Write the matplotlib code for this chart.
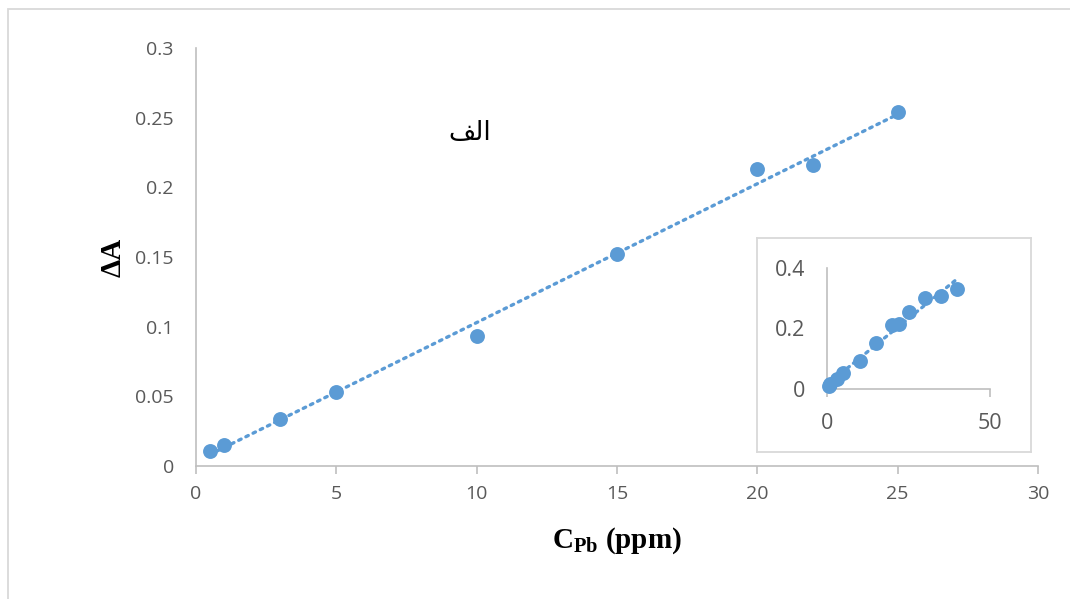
import numpy as np
import matplotlib
matplotlib.use("Agg")
import matplotlib.pyplot as plt
from matplotlib.patches import Rectangle

# ---- data ----
conc_main = [0.5, 1, 3, 5, 10, 15, 20, 22, 25]
dA_main = [0.011, 0.015, 0.034, 0.053, 0.093, 0.152, 0.213, 0.216, 0.254]

conc_inset = [0.5, 1, 3, 5, 10, 15, 20, 22, 25, 30, 35, 40]
dA_inset = [0.011, 0.015, 0.034, 0.053, 0.093, 0.152, 0.213, 0.216, 0.254, 0.300, 0.309, 0.329]

main_xticks = [0, 5, 10, 15, 20, 25, 30]
main_yticks = [0, 0.05, 0.1, 0.15, 0.2, 0.25, 0.3]
main_yticklabels = ["0", "0.05", "0.1", "0.15", "0.2", "0.25", "0.3"]
inset_xticks = [0, 50]
inset_yticks = [0, 0.2, 0.4]
inset_yticklabels = ["0", "0.2", "0.4"]

label_text = "الف"

# simple visual shaping for the Arabic label (matplotlib has no shaping)
_forms = {"ا": "\ufe8d", "ل": "\ufedf", "ف": "\ufed2"}
def shape_label(s):
    return "".join(_forms.get(c, c) for c in s)[::-1]

plt.rcParams["mathtext.fontset"] = "custom"
plt.rcParams["mathtext.bf"] = "Liberation Serif:bold"
plt.rcParams["mathtext.rm"] = "Liberation Serif:bold"
plt.rcParams["mathtext.it"] = "Liberation Serif:bold"

BLUE = "#5B9BD5"
GRAY_TXT = "#595959"
AXIS_GRAY = "#BFBFBF"
TICK_FONT = ["Open Sans", "DejaVu Sans"]

fig = plt.figure(figsize=(10.70, 5.99), dpi=100)
W, H = 1070, 599

# outer chart border
fig.patches.append(Rectangle((8 / W, -0.1), 1.2, (599 - 8.5) / H + 0.1,
                             transform=fig.transFigure, fill=False,
                             edgecolor="#D9D9D9", linewidth=1.3, zorder=0))

ax = fig.add_axes([196 / W, (H - 466) / H, (1038 - 196) / W, (466 - 48) / H])
ax.scatter(conc_main, dA_main, s=115, color=BLUE, zorder=3, linewidths=0)
p = np.polyfit(conc_main, dA_main, 1)
xf = np.array([min(conc_main), max(conc_main)])
ax.plot(xf, np.polyval(p, xf), color=BLUE, linestyle=(0, (0.8, 1.6)),
        linewidth=2.4, dash_capstyle="round", zorder=2)
ax.set_xlim(0, 30)
ax.set_ylim(0, 0.3)
ax.set_xticks(main_xticks)
ax.set_yticks(main_yticks)
ax.set_yticklabels(main_yticklabels)
for s in ["top", "right"]:
    ax.spines[s].set_visible(False)
for s in ["left", "bottom"]:
    ax.spines[s].set_color(AXIS_GRAY)
    ax.spines[s].set_linewidth(1.2)
ax.tick_params(axis="x", direction="out", length=6, width=1.2, color=AXIS_GRAY,
               labelsize=14, labelcolor=GRAY_TXT, pad=8)
ax.tick_params(axis="y", length=0, labelsize=14, labelcolor=GRAY_TXT, pad=16)
for t in ax.get_xticklabels() + ax.get_yticklabels():
    t.set_family(TICK_FONT)
ax.set_xlabel(r"C$_{\mathbf{Pb}}$ (ppm)", fontsize=21, fontweight="bold",
              family="Liberation Serif", labelpad=16)
ax.set_ylabel("ΔA", fontsize=21, fontweight="bold", family="Liberation Serif",
              labelpad=6)
ax.text(9.76, 0.239, shape_label(label_text), fontsize=19, color="black",
        family="DejaVu Sans", ha="center", va="center")

# inset frame
frame = fig.add_axes([757 / W, (H - 452) / H, (1031 - 757) / W, (452 - 238) / H])
frame.set_xticks([]); frame.set_yticks([])
for s in frame.spines.values():
    s.set_color("#D9D9D9"); s.set_linewidth(1.3)
frame.set_facecolor("white")
frame.set_zorder(5)

ins = fig.add_axes([827 / W, (H - 389) / H, (990 - 827) / W, (389 - 268) / H])
ins.set_zorder(6)
ins.patch.set_alpha(0)
ins.scatter(conc_inset, dA_inset, s=115, color=BLUE, zorder=3, linewidths=0,
            clip_on=False)
pi = np.polyfit(conc_inset, dA_inset, 1)
xi = np.array([min(conc_inset), max(conc_inset)])
ins.plot(xi, np.polyval(pi, xi), color=BLUE, linestyle=(0, (0.8, 1.6)),
         linewidth=2.4, dash_capstyle="round", zorder=2, clip_on=False)
ins.set_xlim(0, 50)
ins.set_ylim(0, 0.4)
ins.set_xticks(inset_xticks)
ins.set_yticks(inset_yticks)
ins.set_yticklabels(inset_yticklabels)
for s in ["top", "right"]:
    ins.spines[s].set_visible(False)
for s in ["left", "bottom"]:
    ins.spines[s].set_color(AXIS_GRAY)
    ins.spines[s].set_linewidth(1.2)
ins.tick_params(axis="x", direction="out", length=6, width=1.2, color=AXIS_GRAY,
                labelsize=15.5, labelcolor=GRAY_TXT, pad=11)
ins.tick_params(axis="y", length=0, labelsize=15.5, labelcolor=GRAY_TXT, pad=16)
for t in ins.get_xticklabels() + ins.get_yticklabels():
    t.set_family(TICK_FONT)

fig.savefig("out.png", dpi=100, facecolor="white")
